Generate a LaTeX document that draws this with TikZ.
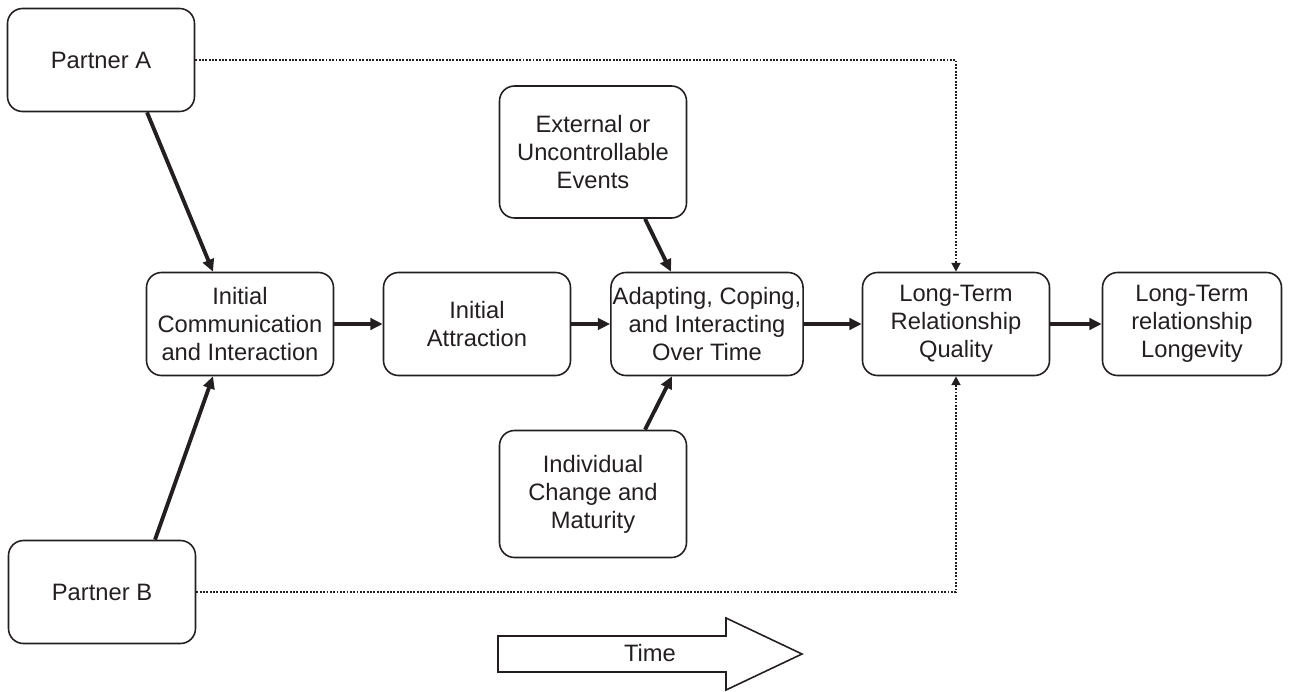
\documentclass[tikz,border=0pt]{standalone}
\usepackage{fontspec}
\setmainfont{Liberation Sans}
\usetikzlibrary{arrows.meta}
\definecolor{ink}{HTML}{231F20}
\begin{document}
\begin{tikzpicture}[
	color=ink,
	box/.style={draw, line width=0.9pt, rounded corners=0.3cm, align=center, minimum width=3.74cm, minimum height=2.06cm, inner sep=1pt, font=\fontsize{13.5}{16}\selectfont},
	flow/.style={line width=2.2pt, -{Triangle[length=7pt,width=6.5pt]}},
	link/.style={line width=1.2pt, dash pattern=on 1.1pt off 0.8pt, -{Triangle[length=5pt,width=5pt]}}
	]
	\useasboundingbox (0,0) rectangle (25.8,-13.82);
	\node[box] (pa) at (2.02,-1.2) {Partner A};
	\node[box] (pb) at (2.04,-11.84) {Partner B};
	\node[box] (comm) at (4.8,-6.48) {Initial\\Communication\\and Interaction};
	\node[box] (attr) at (9.54,-6.48) {Initial\\Attraction};
	\node[box, minimum width=3.7cm] (adapt) at (14.14,-6.48) {Adapting, Coping,\\and Interacting\\Over Time};
	\node[box] (qual) at (19.12,-6.48) {Long-Term\\Relationship\\Quality};
	\node[box, minimum width=3.58cm] (lon) at (23.84,-6.48) {Long-Term\\relationship\\Longevity};
	\node[box, minimum height=2.64cm] (ext) at (11.86,-3.04) {External or\\Uncontrollable\\Events};
	\node[box, minimum height=2.54cm] (ind) at (11.86,-9.88) {Individual\\Change and\\Maturity};
	% solid arrows
	\draw[flow] ([xshift=0.92cm]pa.south) -- ([xshift=-0.54cm]comm.north);
	\draw[flow] ([xshift=1.06cm]pb.north) -- ([xshift=-0.54cm]comm.south);
	\draw[flow] (comm) -- (attr);
	\draw[flow] (attr) -- (adapt);
	\draw[flow] (adapt) -- (qual);
	\draw[flow] (qual) -- (lon);
	\draw[flow] ([xshift=1.04cm]ext.south) -- ([xshift=-0.72cm]adapt.north);
	\draw[flow] ([xshift=1.04cm]ind.north) -- ([xshift=-0.7cm]adapt.south);
	% dotted links
	\draw[link] (pa.east) -| (qual.north);
	\draw[link] (pb.east) -| (qual.south);
	% time arrow
	\draw[line width=0.9pt] (9.96,-12.72) -- (14.52,-12.72) -- (14.52,-12.36) -- (16.04,-13.08) -- (14.52,-13.8) -- (14.52,-13.44) -- (9.96,-13.44) -- cycle;
	\node[font=\fontsize{13.5}{16}\selectfont] (time) at (13.0,-13.06) {Time};
\end{tikzpicture}
\end{document}
